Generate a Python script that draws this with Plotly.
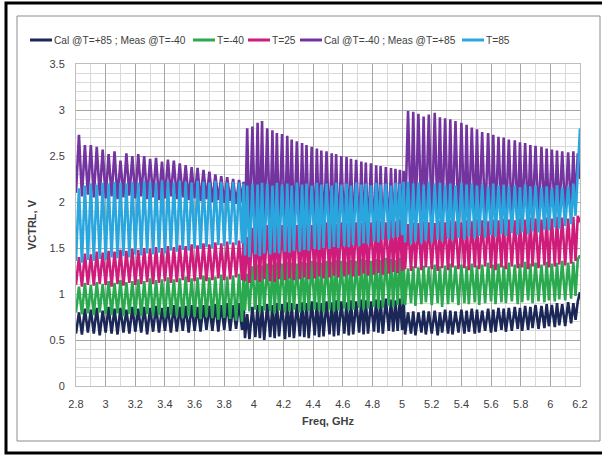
import plotly.graph_objects as go

# ---------------- data ----------------
# tooth start frequencies (GHz) for the three VCO bands
band1_freq = [2.80, 2.84, 2.88, 2.92, 2.96, 3.00, 3.04, 3.08, 3.12, 3.16, 3.20, 3.24, 3.28, 3.32, 3.36,
              3.40, 3.44, 3.48, 3.52, 3.56, 3.60, 3.64, 3.68, 3.72, 3.76, 3.80, 3.84, 3.88, 3.92]
band2_freq = [3.94, 3.97, 4.01, 4.04, 4.07, 4.11, 4.14, 4.17, 4.21, 4.24, 4.27, 4.31, 4.34, 4.37, 4.41,
              4.44, 4.47, 4.51, 4.54, 4.57, 4.61, 4.64, 4.67, 4.71, 4.74, 4.77, 4.81, 4.84, 4.87, 4.91,
              4.94, 4.97, 5.00]
band3_freq = [5.02, 5.06, 5.09, 5.13, 5.16, 5.20, 5.24, 5.27, 5.31, 5.34, 5.38, 5.42, 5.45, 5.49, 5.52,
              5.56, 5.60, 5.63, 5.67, 5.70, 5.74, 5.78, 5.81, 5.85, 5.88, 5.92, 5.96, 5.99, 6.03, 6.06,
              6.10, 6.14, 6.17]
end_freq = 6.2

# Cal @T=+85 ; Meas @T=-40 (navy)
navy_pk1 = [0.80, 0.84, 0.83, 0.85, 0.82, 0.86, 0.84, 0.85, 0.83, 0.86, 0.84, 0.86, 0.85, 0.87, 0.85,
            0.86, 0.88, 0.86, 0.87, 0.88, 0.86, 0.88, 0.87, 0.89, 0.88, 0.90, 0.88, 0.90, 0.92]
navy_tr1 = [0.57, 0.56, 0.58, 0.57, 0.55, 0.58, 0.57, 0.56, 0.58, 0.57, 0.59, 0.58, 0.56, 0.59, 0.58,
            0.60, 0.58, 0.59, 0.60, 0.58, 0.60, 0.59, 0.61, 0.60, 0.59, 0.61, 0.60, 0.62, 0.61]
navy_pk2 = [0.78, 0.86, 0.88, 0.87, 0.89, 0.88, 0.90, 0.89, 0.91, 0.90, 0.89, 0.91, 0.90, 0.92, 0.91,
            0.90, 0.92, 0.91, 0.93, 0.92, 0.91, 0.93, 0.92, 0.94, 0.93, 0.92, 0.94, 0.93, 0.95, 0.94,
            0.93, 0.95, 0.96]
navy_tr2 = [0.52, 0.51, 0.53, 0.52, 0.50, 0.53, 0.52, 0.54, 0.51, 0.53, 0.52, 0.54, 0.53, 0.52, 0.55,
            0.53, 0.54, 0.56, 0.54, 0.55, 0.57, 0.55, 0.56, 0.58, 0.56, 0.57, 0.59, 0.58, 0.57, 0.60,
            0.59, 0.60, 0.61]
navy_pk3 = [0.80, 0.81, 0.80, 0.82, 0.81, 0.82, 0.80, 0.83, 0.82, 0.81, 0.83, 0.82, 0.84, 0.83, 0.82,
            0.84, 0.83, 0.85, 0.84, 0.85, 0.86, 0.85, 0.87, 0.86, 0.88, 0.87, 0.89, 0.88, 0.90, 0.89,
            0.91, 0.90, 0.92]
navy_tr3 = [0.56, 0.57, 0.55, 0.58, 0.56, 0.57, 0.55, 0.58, 0.57, 0.56, 0.58, 0.57, 0.59, 0.57, 0.58,
            0.60, 0.58, 0.59, 0.61, 0.59, 0.60, 0.62, 0.60, 0.61, 0.63, 0.62, 0.63, 0.65, 0.64, 0.66,
            0.65, 0.68, 0.72]
navy_end = 1.02

# T=-40 (green)
green_pk1 = [1.08, 1.12, 1.10, 1.13, 1.11, 1.14, 1.12, 1.15, 1.13, 1.14, 1.16, 1.14, 1.17, 1.15, 1.16,
             1.18, 1.16, 1.17, 1.19, 1.17, 1.18, 1.20, 1.18, 1.19, 1.21, 1.19, 1.20, 1.22, 1.21]
green_tr1 = [0.80, 0.78, 0.79, 0.77, 0.80, 0.78, 0.77, 0.79, 0.76, 0.78, 0.77, 0.76, 0.78, 0.76, 0.77,
             0.75, 0.77, 0.76, 0.74, 0.76, 0.75, 0.73, 0.75, 0.74, 0.72, 0.74, 0.73, 0.71, 0.70]
green_pk2 = [1.22, 1.30, 1.32, 1.31, 1.33, 1.32, 1.34, 1.33, 1.35, 1.34, 1.33, 1.35, 1.34, 1.36, 1.35,
             1.34, 1.36, 1.35, 1.37, 1.36, 1.35, 1.37, 1.36, 1.38, 1.37, 1.36, 1.38, 1.37, 1.39, 1.38,
             1.37, 1.39, 1.40]
green_tr2 = [0.82, 0.81, 0.83, 0.80, 0.82, 0.81, 0.79, 0.82, 0.80, 0.81, 0.83, 0.80, 0.82, 0.81, 0.83,
             0.82, 0.80, 0.83, 0.81, 0.82, 0.84, 0.82, 0.83, 0.85, 0.83, 0.84, 0.86, 0.84, 0.85, 0.87,
             0.86, 0.88, 0.89]
green_pk3 = [1.28, 1.30, 1.29, 1.31, 1.30, 1.32, 1.30, 1.31, 1.33, 1.31, 1.32, 1.30, 1.33, 1.31, 1.32,
             1.34, 1.32, 1.33, 1.31, 1.34, 1.32, 1.33, 1.35, 1.33, 1.34, 1.32, 1.35, 1.33, 1.34, 1.36,
             1.34, 1.35, 1.38]
green_tr3 = [0.88, 0.90, 0.87, 0.89, 0.91, 0.88, 0.90, 0.86, 0.89, 0.91, 0.88, 0.90, 0.89, 0.91, 0.88,
             0.90, 0.92, 0.89, 0.91, 0.90, 0.92, 0.89, 0.91, 0.93, 0.90, 0.92, 0.91, 0.93, 0.92, 0.94,
             0.93, 0.95, 0.98]
green_end = 1.42

# T=25 (magenta)
pink_pk1 = [1.40, 1.44, 1.43, 1.46, 1.45, 1.47, 1.46, 1.48, 1.47, 1.49, 1.48, 1.50, 1.49, 1.51, 1.50,
            1.52, 1.51, 1.53, 1.52, 1.54, 1.53, 1.55, 1.54, 1.56, 1.55, 1.57, 1.56, 1.58, 1.60]
pink_tr1 = [1.10, 1.08, 1.10, 1.09, 1.11, 1.10, 1.08, 1.11, 1.09, 1.12, 1.10, 1.11, 1.13, 1.11, 1.12,
            1.14, 1.12, 1.13, 1.15, 1.13, 1.14, 1.16, 1.14, 1.15, 1.17, 1.15, 1.16, 1.18, 1.15]
pink_pk2 = [1.62, 1.72, 1.74, 1.73, 1.75, 1.74, 1.76, 1.75, 1.74, 1.76, 1.75, 1.77, 1.76, 1.75, 1.77,
            1.76, 1.78, 1.77, 1.76, 1.78, 1.77, 1.79, 1.78, 1.77, 1.79, 1.78, 1.80, 1.79, 1.78, 1.80,
            1.79, 1.81, 1.80]
pink_tr2 = [1.14, 1.12, 1.15, 1.13, 1.16, 1.14, 1.13, 1.16, 1.15, 1.17, 1.15, 1.16, 1.18, 1.16, 1.17,
            1.19, 1.17, 1.18, 1.20, 1.18, 1.19, 1.21, 1.19, 1.20, 1.22, 1.20, 1.21, 1.23, 1.21, 1.22,
            1.24, 1.23, 1.25]
pink_pk3 = [1.76, 1.78, 1.77, 1.79, 1.78, 1.77, 1.79, 1.78, 1.80, 1.79, 1.78, 1.80, 1.79, 1.81, 1.80,
            1.79, 1.81, 1.80, 1.82, 1.81, 1.80, 1.82, 1.81, 1.83, 1.82, 1.81, 1.83, 1.82, 1.84, 1.83,
            1.82, 1.84, 1.85]
pink_tr3 = [1.27, 1.25, 1.28, 1.26, 1.29, 1.27, 1.25, 1.28, 1.26, 1.29, 1.27, 1.28, 1.26, 1.29, 1.27,
            1.30, 1.28, 1.26, 1.29, 1.27, 1.30, 1.28, 1.29, 1.27, 1.30, 1.28, 1.31, 1.29, 1.30, 1.32,
            1.31, 1.33, 1.36]
pink_end = 1.78

# Cal @T=-40 ; Meas @T=+85 (purple)
purple_pk1 = [2.73, 2.62, 2.62, 2.60, 2.57, 2.52, 2.55, 2.45, 2.53, 2.50, 2.52, 2.50, 2.47, 2.48, 2.44,
              2.46, 2.45, 2.42, 2.40, 2.38, 2.37, 2.35, 2.33, 2.30, 2.28, 2.27, 2.25, 2.24, 2.22]
purple_tr1 = [2.10, 2.06, 2.08, 2.05, 2.07, 2.04, 2.06, 2.03, 2.05, 2.07, 2.04, 2.06, 2.03, 2.05, 2.02,
              2.04, 2.06, 2.03, 2.05, 2.02, 2.04, 2.01, 2.03, 2.00, 2.02, 1.99, 2.01, 1.98, 2.00]
purple_pk2 = [2.80, 2.82, 2.86, 2.88, 2.80, 2.78, 2.75, 2.74, 2.72, 2.68, 2.66, 2.64, 2.62, 2.60, 2.58,
              2.56, 2.55, 2.53, 2.52, 2.50, 2.49, 2.47, 2.46, 2.44, 2.43, 2.42, 2.40, 2.39, 2.38, 2.37,
              2.36, 2.35, 2.34]
purple_tr2 = [1.70, 1.66, 1.68, 1.64, 1.67, 1.65, 1.63, 1.66, 1.64, 1.67, 1.65, 1.63, 1.66, 1.64, 1.62,
              1.65, 1.63, 1.66, 1.64, 1.62, 1.65, 1.63, 1.66, 1.64, 1.62, 1.65, 1.63, 1.66, 1.64, 1.67,
              1.65, 1.68, 1.70]
purple_pk3 = [2.99, 2.98, 2.96, 2.93, 2.95, 2.97, 2.92, 2.91, 2.90, 2.88, 2.86, 2.84, 2.81, 2.79, 2.76,
              2.75, 2.73, 2.71, 2.70, 2.68, 2.67, 2.65, 2.64, 2.62, 2.61, 2.60, 2.58, 2.57, 2.56, 2.55,
              2.54, 2.55, 2.53]
purple_tr3 = [1.80, 1.76, 1.78, 1.74, 1.77, 1.75, 1.78, 1.76, 1.74, 1.77, 1.75, 1.78, 1.76, 1.79, 1.77,
              1.75, 1.78, 1.76, 1.79, 1.77, 1.80, 1.78, 1.81, 1.79, 1.82, 1.80, 1.83, 1.81, 1.84, 1.85,
              1.87, 1.90, 1.95]
purple_end = 2.25

# T=85 (light blue)
blue_pk1 = [2.15, 2.18, 2.20, 2.19, 2.21, 2.20, 2.22, 2.21, 2.20, 2.22, 2.21, 2.23, 2.22, 2.21, 2.23,
            2.22, 2.21, 2.23, 2.22, 2.21, 2.23, 2.22, 2.21, 2.23, 2.22, 2.21, 2.22, 2.21, 2.20]
blue_tr1 = [1.36, 1.34, 1.37, 1.36, 1.38, 1.37, 1.40, 1.39, 1.41, 1.40, 1.43, 1.42, 1.44, 1.43, 1.45,
            1.44, 1.47, 1.46, 1.48, 1.47, 1.50, 1.49, 1.51, 1.50, 1.53, 1.52, 1.54, 1.53, 1.55]
blue_pk2 = [2.18, 2.20, 2.19, 2.21, 2.20, 2.18, 2.21, 2.19, 2.20, 2.18, 2.21, 2.19, 2.20, 2.18, 2.21,
            2.19, 2.20, 2.18, 2.21, 2.19, 2.20, 2.18, 2.21, 2.19, 2.20, 2.18, 2.21, 2.19, 2.20, 2.18,
            2.21, 2.20, 2.22]
blue_tr2 = [1.42, 1.40, 1.43, 1.41, 1.44, 1.43, 1.45, 1.44, 1.46, 1.45, 1.47, 1.46, 1.48, 1.47, 1.49,
            1.48, 1.50, 1.49, 1.51, 1.50, 1.52, 1.51, 1.53, 1.52, 1.55, 1.54, 1.57, 1.56, 1.59, 1.58,
            1.61, 1.62, 1.64]
blue_pk3 = [2.22, 2.20, 2.21, 2.19, 2.22, 2.20, 2.21, 2.19, 2.20, 2.18, 2.21, 2.19, 2.20, 2.18, 2.19,
            2.17, 2.20, 2.18, 2.19, 2.17, 2.18, 2.16, 2.19, 2.17, 2.18, 2.16, 2.17, 2.15, 2.18, 2.16,
            2.17, 2.20, 2.30]
blue_tr3 = [1.56, 1.54, 1.57, 1.55, 1.58, 1.56, 1.59, 1.57, 1.60, 1.58, 1.61, 1.59, 1.62, 1.60, 1.63,
            1.61, 1.64, 1.62, 1.65, 1.63, 1.66, 1.64, 1.67, 1.65, 1.68, 1.67, 1.70, 1.69, 1.72, 1.71,
            1.74, 1.76, 1.85]
blue_end = 2.80

x_ticks = [2.8, 3.0, 3.2, 3.4, 3.6, 3.8, 4.0, 4.2, 4.4, 4.6, 4.8, 5.0, 5.2, 5.4, 5.6, 5.8, 6.0, 6.2]
x_tick_text = ["2.8", "3", "3.2", "3.4", "3.6", "3.8", "4", "4.2", "4.4", "4.6", "4.8", "5",
               "5.2", "5.4", "5.6", "5.8", "6", "6.2"]
y_ticks = [0, 0.5, 1, 1.5, 2, 2.5, 3, 3.5]
y_tick_text = ["0", "0.5", "1", "1.5", "2", "2.5", "3", "3.5"]

series = [
    ("Cal @T=+85 ; Meas @T=-40", "#1b2756",
     [(navy_pk1, navy_tr1), (navy_pk2, navy_tr2), (navy_pk3, navy_tr3)], navy_end),
    ("T=-40", "#2aa94f",
     [(green_pk1, green_tr1), (green_pk2, green_tr2), (green_pk3, green_tr3)], green_end),
    ("T=25", "#cf1b7a",
     [(pink_pk1, pink_tr1), (pink_pk2, pink_tr2), (pink_pk3, pink_tr3)], pink_end),
    ("Cal @T=-40 ; Meas @T=+85", "#7434a0",
     [(purple_pk1, purple_tr1), (purple_pk2, purple_tr2), (purple_pk3, purple_tr3)], purple_end),
    ("T=85", "#2aa6de",
     [(blue_pk1, blue_tr1), (blue_pk2, blue_tr2), (blue_pk3, blue_tr3)], blue_end),
]

bands = [band1_freq, band2_freq, band3_freq]
# the frequency that follows the last tooth of each band
next_start = [band2_freq[0], band3_freq[0], end_freq]


def build_path(band_vals, end_val):
    xs, ys = [], []
    for b, freqs in enumerate(bands):
        pk, tr = band_vals[b]
        for k in range(len(freqs)):
            f0 = freqs[k]
            f1 = freqs[k + 1] if k + 1 < len(freqs) else next_start[b]
            xs.append(f0)
            ys.append(tr[k])
            xs.append((f0 + f1) / 2)
            ys.append(pk[k])
    xs.append(end_freq)
    ys.append(end_val)
    return xs, ys


fig = go.Figure()
for name, color, band_vals, end_val in series:
    xs, ys = build_path(band_vals, end_val)
    fig.add_trace(go.Scatter(x=xs, y=ys, mode="lines", name=name, showlegend=False,
                             line=dict(color=color, width=2.6)))

font_family = "Liberation Sans, Arial, sans-serif"
text_color = "#404040"

# plot area in pixels: x 76..580, y 64..386
L, R, T, B = 76, 580, 64, 386
W, H = 602, 456


def px_x(p):
    return (p - L) / (R - L)


def px_y(p):
    return (B - p) / (B - T)


fig.update_layout(
    width=W, height=H,
    margin=dict(l=L, r=W - R, t=T, b=H - B),
    paper_bgcolor="white", plot_bgcolor="white",
    font=dict(family=font_family, size=11, color=text_color),
    showlegend=False,
    xaxis=dict(range=[2.8, 6.2], tickmode="array", tickvals=x_ticks, ticktext=x_tick_text,
               showgrid=True, gridcolor="#a6a6a6", gridwidth=1,
               minor=dict(dtick=0.1, tick0=2.8, showgrid=True, gridcolor="#d9d9d9", gridwidth=1),
               showline=True, linecolor="#bfbfbf", linewidth=1, mirror=True,
               zeroline=False, ticks="", ticklabelstandoff=8,
               tickfont=dict(size=11, color=text_color),
               title=dict(text="<b>Freq, GHz</b>", font=dict(size=11, color=text_color), standoff=8)),
    yaxis=dict(range=[0, 3.5], tickmode="array", tickvals=y_ticks, ticktext=y_tick_text,
               showgrid=True, gridcolor="#a6a6a6", gridwidth=1,
               minor=dict(dtick=0.1, tick0=0, showgrid=True, gridcolor="#d9d9d9", gridwidth=1),
               showline=True, linecolor="#bfbfbf", linewidth=1, mirror=True,
               zeroline=False, ticks="", ticklabelstandoff=8,
               tickfont=dict(size=11, color=text_color),
               title=dict(text="<b>VCTRL, V</b>", font=dict(size=11, color=text_color), standoff=10)),
)

# legend drawn as line samples + text, one row across the top
legend_line_x = [30, 193, 248, 300, 462]
legend_y = 40
for (name, color, _, _), lx in zip(series, legend_line_x):
    fig.add_shape(type="line", xref="paper", yref="paper",
                  x0=px_x(lx), x1=px_x(lx + 22), y0=px_y(legend_y), y1=px_y(legend_y),
                  line=dict(color=color, width=3))
    fig.add_annotation(xref="paper", yref="paper", x=px_x(lx + 22), y=px_y(legend_y),
                       text=name, showarrow=False, xanchor="left", yanchor="middle",
                       font=dict(family=font_family, size=10.2, color=text_color))

# outer black frame and inner gray frame
fig.add_shape(type="rect", xref="paper", yref="paper",
              x0=px_x(6), x1=px_x(615), y0=px_y(453), y1=px_y(3),
              line=dict(color="black", width=3), fillcolor="rgba(0,0,0,0)", layer="above")
fig.add_shape(type="rect", xref="paper", yref="paper",
              x0=px_x(17), x1=px_x(600), y0=px_y(441), y1=px_y(16),
              line=dict(color="#8c8c8c", width=1), fillcolor="rgba(0,0,0,0)", layer="above")

fig.write_html("out.html")
